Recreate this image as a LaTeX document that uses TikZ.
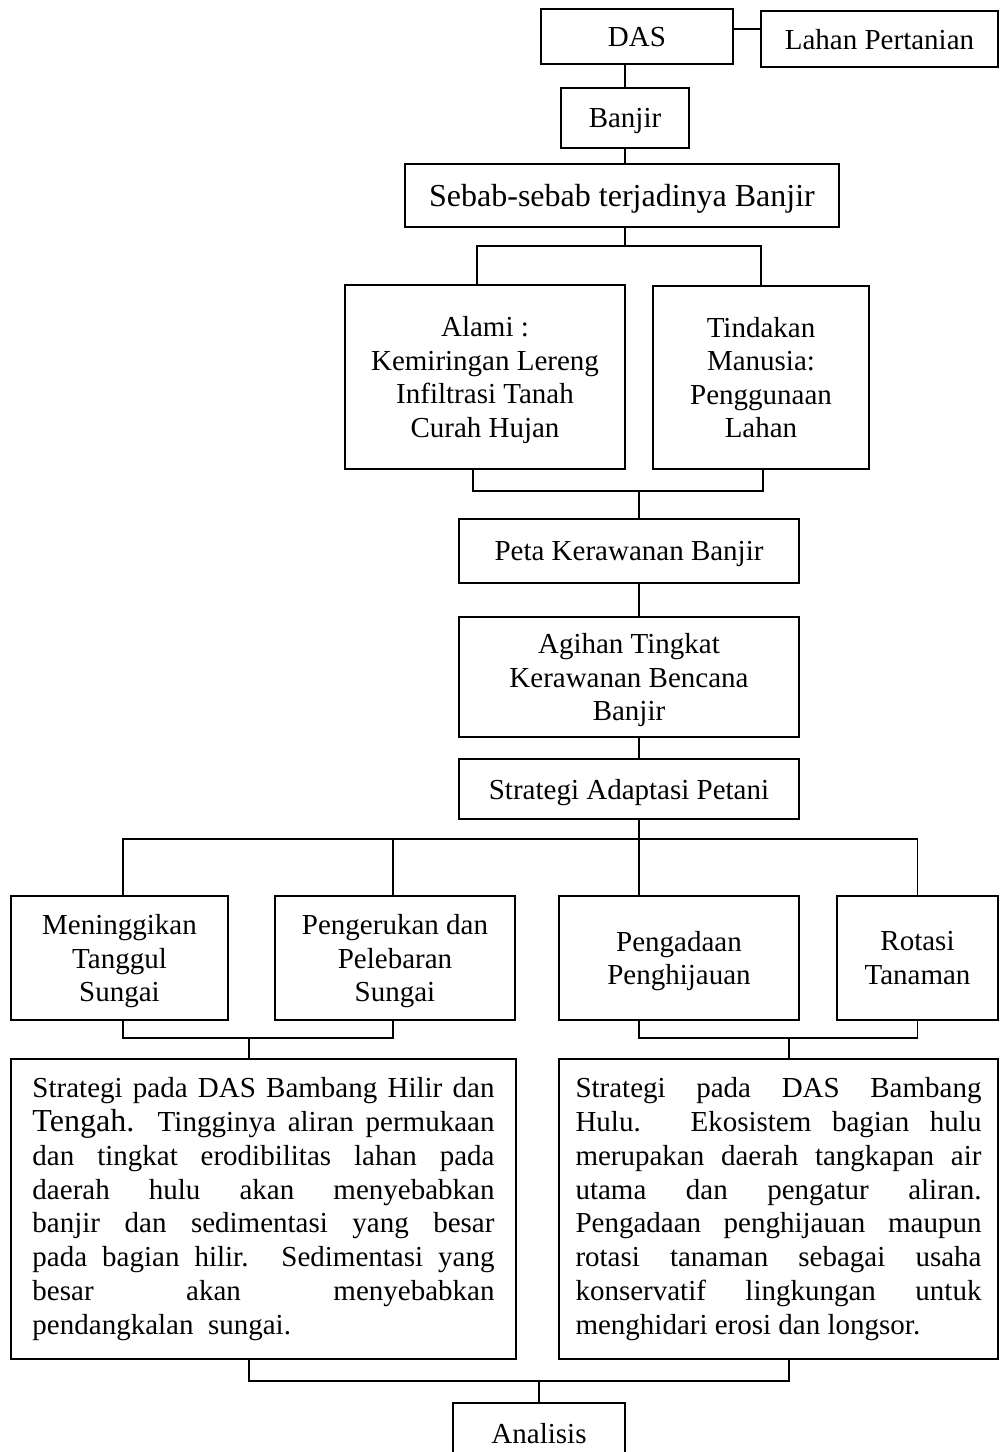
\documentclass[tikz,border=0pt]{standalone}
\usepackage{fontspec}
\setmainfont{Liberation Serif}
\begin{document}
\begin{tikzpicture}[
    x=0.5pt, y=-0.5pt,
    box/.style={draw, rectangle, line width=0.7pt, inner sep=0pt, align=center,
      text depth=0pt, font=\fontsize{14.5}{16.7}\selectfont},
    boxsize/.style 2 args={minimum width=#1*0.5pt, minimum height=#2*0.5pt},
    parbox/.style={draw, rectangle, line width=0.7pt, inner ysep=0pt, align=justify,
      font=\fontsize{14.5}{16.9}\selectfont},
    link/.style={line width=0.7pt}
  ]
  \useasboundingbox (0,0) rectangle (1000,1452);

  % top chain
  \node [box, boxsize={192}{55}] (das) at (637,36.5) {DAS};
  \node [box, boxsize={237}{56}] (lahan) at (879.5,39) {Lahan Pertanian};
  \node [box, boxsize={128}{60}] (banjir) at (625,118) {Banjir};
  \node [box, boxsize={434}{63}, font=\fontsize{16}{18}\selectfont] (sebab) at (622,195.5)
    {Sebab-sebab terjadinya Banjir};

  % causes
  \node [box, boxsize={280}{184}] (alami) at (485,377)
    {Alami :\\Kemiringan Lereng\\Infiltrasi Tanah\\Curah Hujan};
  \node [box, boxsize={216}{183}] (tindakan) at (761,377.5)
    {Tindakan\\Manusia:\\Penggunaan\\Lahan};

  % middle chain
  \node [box, boxsize={340}{64}] (peta) at (629,551) {Peta Kerawanan Banjir};
  \node [box, boxsize={340}{120}] (agihan) at (629,677)
    {Agihan Tingkat\\Kerawanan Bencana\\Banjir};
  \node [box, boxsize={340}{60}] (adaptasi) at (629,789) {Strategi Adaptasi Petani};

  % strategies
  \node [box, boxsize={217}{124}] (tanggul) at (119.5,958) {Meninggikan\\Tanggul\\Sungai};
  \node [box, boxsize={240}{124}] (keruk) at (395,958) {Pengerukan dan\\Pelebaran\\Sungai};
  \node [box, boxsize={240}{124}] (hijau) at (679,958) {Pengadaan\\Penghijauan};
  \node [box, boxsize={161}{124}] (rotasi) at (917.5,958) {Rotasi\\Tanaman};

  % descriptions
  \node [parbox, text width=231pt, inner xsep=10.75pt, minimum height=150pt] (hilir) at (263.5,1209)
    {Strategi pada DAS Bambang Hilir dan\linebreak
     {\fontsize{16}{16.9}\selectfont Tengah.} Tingginya aliran permukaan\linebreak
     dan tingkat erodibilitas lahan pada\linebreak
     daerah hulu akan menyebabkan\linebreak
     banjir dan sedimentasi yang besar\linebreak
     pada bagian hilir. Sedimentasi yang\linebreak
     besar akan menyebabkan\linebreak
     pendangkalan~ sungai.};
  \node [parbox, text width=203pt, inner xsep=8.25pt, minimum height=150pt] (hulu) at (778.5,1209)
    {Strategi pada DAS Bambang\linebreak
     Hulu. Ekosistem bagian hulu\linebreak
     merupakan daerah tangkapan air\linebreak
     utama dan pengatur aliran.\linebreak
     Pengadaan penghijauan maupun\linebreak
     rotasi tanaman sebagai usaha\linebreak
     konservatif lingkungan untuk\linebreak
     menghidari erosi dan longsor.};

  \node [box, boxsize={172}{60}] (analisis) at (539,1433) {Analisis};

  % junctions
  \coordinate (j1) at (625,246);
  \coordinate (j2) at (639,491);
  \coordinate (j3) at (639,839);
  \coordinate (j4) at (249,1038);
  \coordinate (j5) at (789,1038);
  \coordinate (j6) at (539,1381);

  % connectors
  \draw [link] ([yshift=3.75pt]das.east) -- ([yshift=3.75pt]das.east -| lahan.west);
  \draw [link] (das.south -| banjir) -- (banjir.north);
  \draw [link] (banjir.south) -- (banjir.south |- sebab.north);
  \draw [link] (sebab.south -| j1) -- (j1);
  \draw [link] ([xshift=-4pt]alami.north) |- (j1) -| (tindakan.north);
  \draw [link] ([xshift=-6pt]alami.south) |- (j2) -| ([xshift=1pt]tindakan.south);
  \draw [link] (j2) -- (j2 |- peta.north);
  \draw [link] (peta.south -| j2) -- (agihan.north -| j2);
  \draw [link] (agihan.south -| j2) -- (adaptasi.north -| j2);
  \draw [link] (adaptasi.south -| j3) -- (j3);
  \draw [link] ([xshift=1.75pt]tanggul.north) |- (j3) -| (rotasi.north);
  \draw [link] ([xshift=-1pt]keruk.north) -- ([xshift=-1pt]keruk.north |- j3);
  \draw [link] (j3) -- (j3 |- hijau.north);
  \draw [link] ([xshift=1.75pt]tanggul.south) |- (j4) -| ([xshift=-1pt]keruk.south);
  \draw [link] (j4) -- (j4 |- hilir.north);
  \draw [link] (hijau.south -| j3) |- (j5) -| (rotasi.south);
  \draw [link] (j5) -- (j5 |- hulu.north);
  \draw [link] (hilir.south -| j4) |- (j6) -| (hulu.south -| j5);
  \draw [link] (j6) -- (analisis.north);
\end{tikzpicture}
\end{document}
